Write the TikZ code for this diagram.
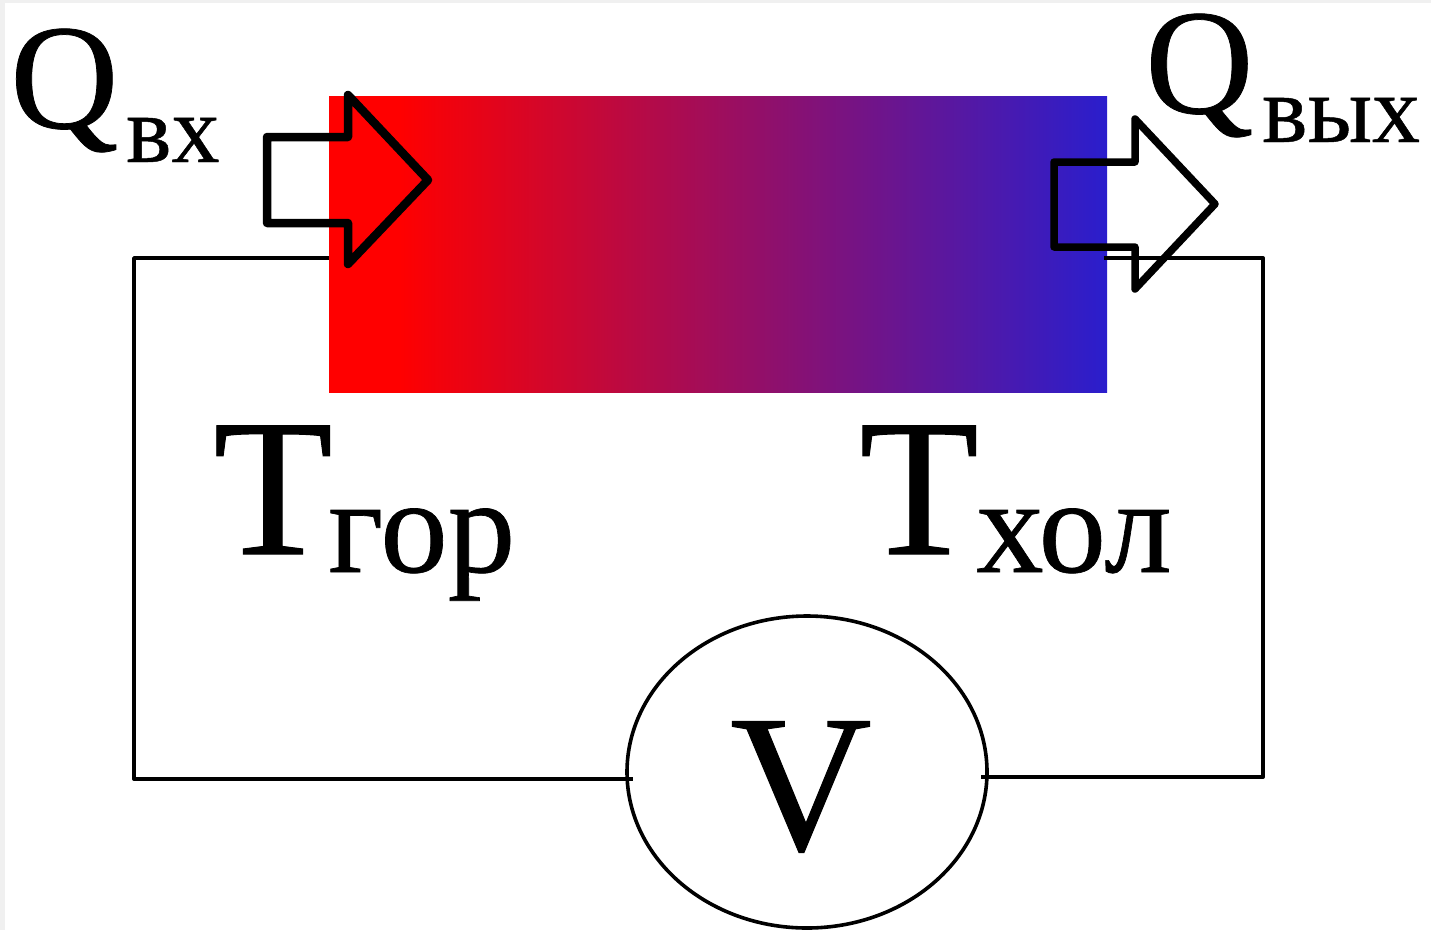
\documentclass[tikz,border=0pt]{standalone}
\usepackage{fontspec}
\usetikzlibrary{shapes.geometric}
\setmainfont[FakeBold=0.5]{Liberation Serif}
\definecolor{hotc}{RGB}{255,0,0}
\definecolor{coldc}{RGB}{42,30,205}
\definecolor{edgec}{RGB}{240,240,240}
\pgfdeclarehorizontalshading{barshade}{100bp}{color(0bp)=(hotc); color(29.5bp)=(hotc); color(75bp)=(coldc); color(100bp)=(coldc)}
\tikzset{
  wire/.style={draw=black,line width=3.8pt,line join=round},
  blockarrow/.style={draw=black,line width=8.5pt,line join=round},
  lab/.style={inner sep=0pt,anchor=base west,text=black}
}
\begin{document}
\begin{tikzpicture}[x=1pt,y=-1pt]
\useasboundingbox (0,0) rectangle (1431,930);
\fill[edgec] (0,0) rectangle (1431,3);
\fill[edgec] (0,0) rectangle (5,930);
\coordinate (wireTL) at (134,258);
\coordinate (wireBL) at (134,779);
\coordinate (wireTR) at (1263,258);
\coordinate (wireBR) at (1263,777);
\coordinate (wireVL) at (633,779);
\coordinate (wireVR) at (981,777);
\coordinate (wireBarR) at (1104,258);
\node[draw=black,line width=3.6pt,ellipse,minimum width=360pt,minimum height=312pt,inner sep=0pt] (volt) at (807,772) {};
\node[inner sep=0pt,font=\fontsize{196}{196}\selectfont] (vlab) at (801,787) {V};
\node[minimum width=778pt,minimum height=296pt,inner sep=0pt,shading=barshade] (bar) at (718,244) {};
\draw[wire] (bar.west |- wireTL) -- (wireTL) -- (wireBL) -- (wireVL);
\draw[wire] (wireBarR) -- (wireTR) -- (wireBR) -- (wireVR);
\draw[blockarrow] (267,137) -- (348,137) -- (348,95) -- (428,180) -- (348,264) -- (348,223) -- (267,223) -- cycle;
\draw[blockarrow,line width=7.5pt] (1054,162) -- (1135,162) -- (1135,119) -- (1215,204) -- (1135,289) -- (1135,247) -- (1054,247) -- cycle;
\node[lab,font=\fontsize{150}{150}\selectfont] (q1) at (10,128) {Q};
\node[lab,font=\fontsize{96}{96}\selectfont] (q1s) at (126,162) {вх};
\node[lab,font=\fontsize{150}{150}\selectfont] (q2) at (1145,113) {Q};
\node[lab,font=\fontsize{96}{96}\selectfont] (q2s) at (1262,142) {вых};
\node[lab,font=\fontsize{196}{196}\selectfont] (t1) at (213,554) {Т};
\node[lab,font=\fontsize{135}{135}\selectfont] (t1s) at (328,572) {гор};
\node[lab,font=\fontsize{196}{196}\selectfont] (t2) at (859,554) {Т};
\node[lab,font=\fontsize{135}{135}\selectfont] (t2s) at (976,572) {хол};
\end{tikzpicture}
\end{document}
